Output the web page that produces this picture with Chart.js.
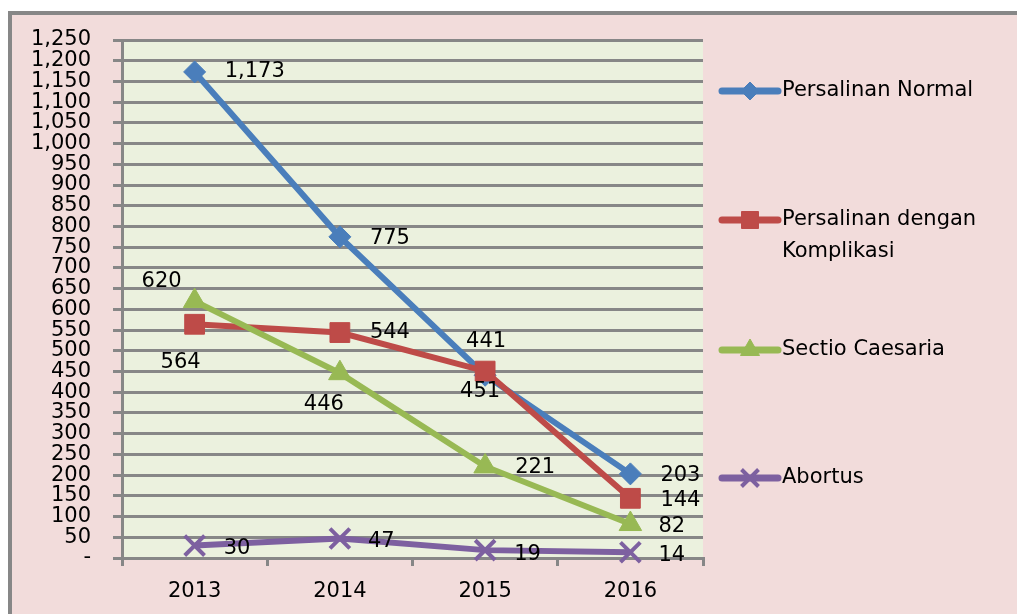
<!DOCTYPE html>
<html>
<head>
<meta charset="utf-8">
<script src="https://cdn.jsdelivr.net/npm/chart.js@4.4.0/dist/chart.umd.min.js"></script>
<style>
  html, body { margin: 0; padding: 0; overflow: hidden; }
  body { background: #F2DCDB; }
  .white { position: fixed; background: #fff; }
  .rule { position: fixed; background: #878787; }
  #chart { position: fixed; left: 12px; top: 15px; display: block; }
</style>
</head>
<body>
<div class="white" style="left:0; top:0; width:2000px; height:11px;"></div>
<div class="white" style="left:0; top:0; width:8px; height:2000px;"></div>
<div class="rule" style="left:8px; top:11px; width:2000px; height:4px;"></div>
<div class="rule" style="left:8px; top:11px; width:4px; height:2000px;"></div>
<canvas id="chart" width="990" height="599"></canvas>
<script>
// data per tahun
const years = ['2013', '2014', '2015', '2016'];
const normal = [1173, 775, 441, 203];
const komplikasi = [564, 544, 451, 144];
const sectio = [620, 446, 221, 82];
const abortus = [30, 47, 19, 14];

const yMax = 1250;
const yStep = 50;

const FONT_SIZE = 21;
const FONT = FONT_SIZE + 'px "DejaVu Sans"';
const GRID = '#878787';

// where each value label sits relative to its point: [dx, dy, align]
const labelPos = [
  [[30, 0, 'left'], [30, 2, 'left'], [1, -34, 'center'], [30, 2, 'left']],
  [[-14, 38, 'center'], [30, 0, 'left'], [-5, 20, 'center'], [30, 2, 'left']],
  [[-33, -20, 'center'], [-16, 31, 'center'], [30, 1, 'left'], [28, 3, 'left']],
  [[29, 3, 'left'], [28, 3, 'left'], [29, 4, 'left'], [28, 3, 'left']]
];

function series(label, data, color, style, radius, order) {
  return {
    label: label,
    data: data,
    borderColor: color,
    backgroundColor: color,
    borderWidth: 6,
    pointStyle: style,
    pointRadius: radius,
    pointHoverRadius: radius,
    pointBorderWidth: style === 'crossRot' ? 4 : 1,
    pointBorderColor: color,
    pointBackgroundColor: color,
    tension: 0,
    clip: false,
    order: order
  };
}

const plotBackground = {
  id: 'plotBackground',
  beforeDraw(chart) {
    const a = chart.chartArea, ctx = chart.ctx;
    ctx.save();
    ctx.fillStyle = '#EBF1DE';
    ctx.fillRect(a.left, a.top, a.right - a.left, a.bottom - a.top);
    ctx.restore();
  }
};

const valueLabels = {
  id: 'valueLabels',
  afterDatasetsDraw(chart) {
    const ctx = chart.ctx;
    ctx.save();
    ctx.font = FONT;
    ctx.fillStyle = '#000';
    ctx.textBaseline = 'middle';
    chart.data.datasets.forEach((ds, i) => {
      chart.getDatasetMeta(i).data.forEach((pt, j) => {
        const p = labelPos[i][j];
        ctx.textAlign = p[2];
        ctx.fillText(ds.data[j].toLocaleString('en-US'), pt.x + p[0], pt.y + p[1]);
      });
    });
    ctx.restore();
  }
};

// legend on the right: line + marker, label wrapped onto two lines if needed
const sideLegend = {
  id: 'sideLegend',
  afterDraw(chart) {
    const ctx = chart.ctx;
    const rows = [76, 205, 335, 463];
    const x0 = 710, x1 = 766, tx = 770, maxW = 215, lineH = 32;
    ctx.save();
    ctx.font = FONT;
    chart.data.datasets.forEach((ds, i) => {
      const y = rows[i];
      ctx.strokeStyle = ds.borderColor;
      ctx.lineWidth = 7;
      ctx.lineCap = 'round';
      ctx.beginPath();
      ctx.moveTo(x0, y);
      ctx.lineTo(x1, y);
      ctx.stroke();
      ctx.fillStyle = ds.backgroundColor;
      ctx.lineWidth = ds.pointBorderWidth;
      ctx.lineCap = 'butt';
      Chart.helpers.drawPoint(ctx, { pointStyle: ds.pointStyle, radius: ds.pointRadius - 2, borderWidth: ds.pointBorderWidth }, (x0 + x1) / 2, y);

      const words = ds.label.split(' ');
      const lines = [];
      let cur = '';
      words.forEach(w => {
        const t = cur ? cur + ' ' + w : w;
        if (ctx.measureText(t).width > maxW && cur) { lines.push(cur); cur = w; }
        else cur = t;
      });
      lines.push(cur);
      ctx.fillStyle = '#000';
      ctx.textAlign = 'left';
      ctx.textBaseline = 'middle';
      lines.forEach((l, k) => ctx.fillText(l, tx, y + k * lineH));
    });
    ctx.restore();
  }
};

new Chart(document.getElementById('chart'), {
  type: 'line',
  data: {
    labels: years,
    datasets: [
      series('Persalinan Normal', normal, '#4A7EBB', 'rectRot', 11, 4),
      series('Persalinan dengan Komplikasi', komplikasi, '#BE4B48', 'rect', 14, 3),
      series('Sectio Caesaria', sectio, '#98B954', 'triangle', 13, 2),
      series('Abortus', abortus, '#7D60A0', 'crossRot', 14, 1)
    ]
  },
  options: {
    responsive: false,
    animation: false,
    events: [],
    layout: { autoPadding: false, padding: { top: 25, right: 299, left: 0, bottom: 0 } },
    plugins: {
      legend: { display: false },
      tooltip: { enabled: false }
    },
    scales: {
      x: {
        offset: true,
        afterFit(scale) {
          scale.height = 56;
          scale.paddingLeft = 0;
          scale.paddingRight = 0;
        },
        grid: {
          offset: true,
          drawOnChartArea: false,
          drawTicks: true,
          tickLength: 8,
          color: GRID,
          lineWidth: 3
        },
        border: { color: GRID, width: 3 },
        ticks: { color: '#000', font: { family: 'DejaVu Sans', size: FONT_SIZE }, padding: 13 }
      },
      y: {
        min: 0,
        max: yMax,
        afterFit(scale) {
          // the tick padding would otherwise push the plot top down
          scale.width = 110;
          scale.paddingTop = 0;
          scale.paddingBottom = 0;
        },
        grid: { color: GRID, lineWidth: 3, tickLength: 9 },
        border: { color: GRID, width: 3 },
        ticks: {
          stepSize: yStep,
          autoSkip: false,
          color: '#000',
          font: { family: 'DejaVu Sans', size: FONT_SIZE },
          padding: 22,
          callback: v => v === 0 ? '-' : v.toLocaleString('en-US')
        }
      }
    }
  },
  plugins: [plotBackground, valueLabels, sideLegend]
});
</script>
</body>
</html>
